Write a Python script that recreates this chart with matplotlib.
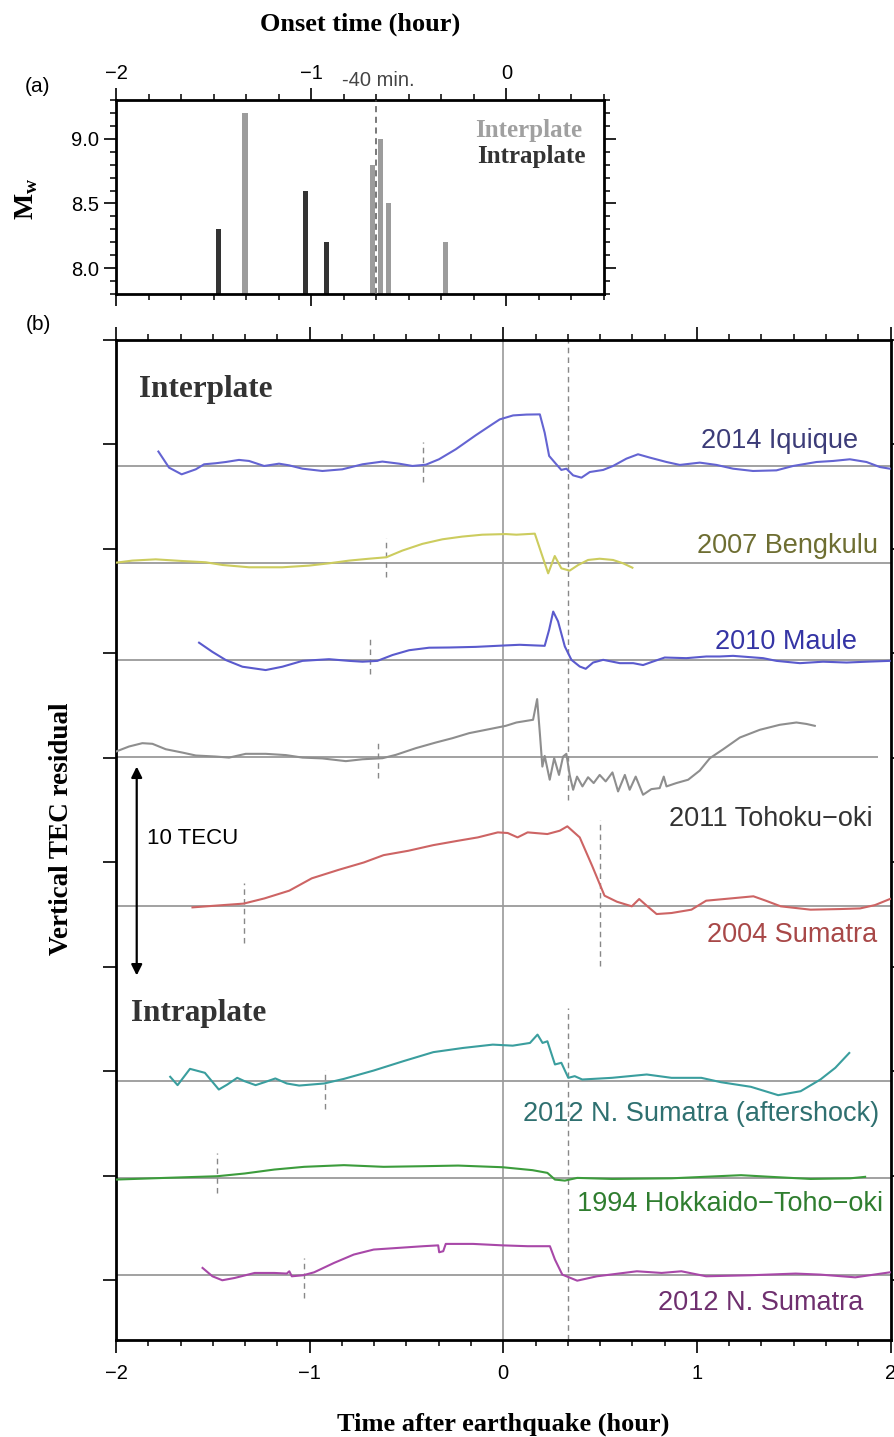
import matplotlib
matplotlib.use("Agg")
import matplotlib.pyplot as plt
from matplotlib.ticker import MultipleLocator, FixedLocator, FormatStrFormatter, NullFormatter

SANS = "Liberation Sans"
SERIF = "Liberation Serif"
plt.rcParams["font.family"] = SANS
plt.rcParams["axes.unicode_minus"] = True
plt.rcParams["mathtext.fontset"] = "custom"
plt.rcParams["mathtext.rm"] = "Liberation Serif"
plt.rcParams["mathtext.bf"] = "Liberation Serif:bold"

# ---------------- panel (a): onset time vs. magnitude ----------------
bar_onset_h = [-1.476, -1.339, -1.027, -0.920, -0.686, -0.645, -0.602, -0.312]
bar_mw = [8.3, 9.2, 8.6, 8.2, 8.8, 9.0, 8.5, 8.2]
bar_kind = ["intra", "inter", "intra", "intra", "inter", "inter", "inter", "inter"]
kind_color = {"inter": "#9c9c9c", "intra": "#333333"}
onset_ref_min = -40

# ---------------- panel (b): VTEC residual time series ----------------
# (hour after earthquake, TECU relative to the series baseline)
iquique = [(-1.781, 0.69), (-1.726, -0.08), (-1.661, -0.40), (-1.588, -0.16), (-1.545, 0.08),
           (-1.485, 0.13), (-1.433, 0.19), (-1.365, 0.29), (-1.313, 0.24), (-1.235, 0.00),
           (-1.158, 0.11), (-1.106, 0.03), (-1.037, -0.13), (-0.934, -0.24), (-0.831, -0.16),
           (-0.727, 0.08), (-0.624, 0.21), (-0.538, 0.11), (-0.469, 0.00), (-0.400, 0.06),
           (-0.332, 0.32), (-0.245, 0.80), (-0.142, 1.47), (-0.056, 2.00), (-0.018, 2.23),
           (0.051, 2.42), (0.120, 2.46), (0.189, 2.47), (0.214, 1.59), (0.237, 0.48),
           (0.274, 0.08), (0.300, -0.19), (0.326, -0.13), (0.361, -0.45), (0.404, -0.56),
           (0.447, -0.29), (0.516, -0.19), (0.567, 0.00), (0.636, 0.35), (0.696, 0.56),
           (0.757, 0.40), (0.843, 0.19), (0.912, 0.05), (1.015, 0.16), (1.101, 0.05),
           (1.187, -0.13), (1.290, -0.24), (1.411, -0.21), (1.497, 0.00), (1.618, 0.19),
           (1.704, 0.24), (1.790, 0.32), (1.876, 0.19), (1.945, -0.05), (1.996, -0.13)]
bengkulu = [(-2.000, 0.03), (-1.916, 0.13), (-1.795, 0.19), (-1.657, 0.11), (-1.537, 0.05),
            (-1.450, -0.08), (-1.313, -0.19), (-1.141, -0.19), (-1.003, -0.11), (-0.900, 0.00),
            (-0.796, 0.13), (-0.693, 0.22), (-0.604, 0.29), (-0.521, 0.61), (-0.418, 0.93),
            (-0.314, 1.15), (-0.211, 1.28), (-0.108, 1.37), (0.013, 1.40), (0.068, 1.37),
            (0.163, 1.42), (0.197, 0.48), (0.232, -0.48), (0.266, 0.35), (0.300, -0.24),
            (0.343, -0.35), (0.387, -0.08), (0.438, 0.16), (0.498, 0.22), (0.567, 0.16),
            (0.619, 0.00), (0.667, -0.21)]
maule = [(-1.571, 0.85), (-1.502, 0.41), (-1.433, 0.02), (-1.347, -0.30), (-1.227, -0.46),
         (-1.141, -0.30), (-1.037, -0.02), (-0.900, 0.06), (-0.796, -0.02), (-0.727, -0.06),
         (-0.650, -0.02), (-0.572, 0.26), (-0.486, 0.49), (-0.383, 0.61), (-0.280, 0.62),
         (-0.142, 0.65), (0.013, 0.72), (0.085, 0.75), (0.214, 0.70), (0.237, 1.47),
         (0.258, 2.34), (0.283, 1.87), (0.318, 0.67), (0.352, 0.03), (0.395, -0.29),
         (0.426, -0.40), (0.464, -0.10), (0.516, 0.03), (0.602, -0.13), (0.671, -0.13),
         (0.722, -0.22), (0.774, -0.05), (0.834, 0.14), (0.946, 0.11), (1.049, 0.19),
         (1.118, 0.19), (1.187, 0.22), (1.342, 0.11), (1.411, -0.02), (1.532, -0.13),
         (1.652, -0.06), (1.773, -0.10), (1.876, -0.06), (1.996, -0.02)]
tohoku = [(-2.000, 0.27), (-1.933, 0.51), (-1.864, 0.67), (-1.812, 0.64), (-1.743, 0.38),
          (-1.657, 0.22), (-1.588, 0.08), (-1.485, 0.03), (-1.416, -0.02), (-1.330, 0.16),
          (-1.227, 0.16), (-1.123, 0.10), (-1.037, -0.02), (-0.934, -0.06), (-0.813, -0.19),
          (-0.727, -0.10), (-0.624, -0.05), (-0.555, 0.11), (-0.452, 0.43), (-0.349, 0.70),
          (-0.262, 0.91), (-0.176, 1.15), (-0.073, 1.34), (0.013, 1.50), (0.068, 1.66),
          (0.154, 1.79), (0.175, 2.78), (0.189, 1.15), (0.202, -0.45), (0.214, 0.06),
          (0.240, -1.08), (0.263, -0.05), (0.288, -0.85), (0.309, 0.03), (0.326, 0.16),
          (0.343, -0.85), (0.361, -1.56), (0.381, -0.93), (0.409, -1.40), (0.438, -0.96),
          (0.467, -1.24), (0.498, -0.85), (0.529, -1.16), (0.564, -0.73), (0.593, -1.64),
          (0.628, -0.85), (0.653, -1.56), (0.684, -0.93), (0.722, -1.80), (0.765, -1.53),
          (0.808, -1.48), (0.829, -0.93), (0.843, -1.40), (0.894, -1.24), (0.955, -1.08),
          (1.015, -0.64), (1.067, -0.05), (1.136, 0.38), (1.222, 0.94), (1.325, 1.31),
          (1.428, 1.55), (1.514, 1.66), (1.566, 1.59), (1.609, 1.50)]
sumatra2004 = [(-1.605, -0.08), (-1.489, 0.00), (-1.341, 0.10), (-1.233, 0.35), (-1.105, 0.72),
               (-0.989, 1.31), (-0.849, 1.72), (-0.720, 2.07), (-0.618, 2.42), (-0.490, 2.63),
               (-0.361, 2.90), (-0.233, 3.11), (-0.131, 3.27), (-0.028, 3.51), (0.023, 3.48),
               (0.074, 3.27), (0.126, 3.51), (0.228, 3.43), (0.292, 3.59), (0.331, 3.80),
               (0.395, 3.27), (0.459, 1.91), (0.523, 0.48), (0.587, 0.19), (0.664, -0.03),
               (0.702, 0.32), (0.741, 0.00), (0.792, -0.40), (0.869, -0.35), (0.972, -0.19),
               (1.048, 0.24), (1.177, 0.35), (1.292, 0.45), (1.356, 0.24), (1.433, -0.03),
               (1.587, -0.19), (1.741, -0.16), (1.843, -0.13), (1.920, 0.03), (1.997, 0.32)]
aftershock = [(-1.720, 0.18), (-1.682, -0.22), (-1.618, 0.56), (-1.541, 0.37), (-1.469, -0.43),
              (-1.425, -0.19), (-1.374, 0.13), (-1.336, -0.03), (-1.279, -0.22), (-1.233, -0.08),
              (-1.177, 0.10), (-1.118, -0.14), (-1.054, -0.24), (-0.925, -0.14), (-0.823, 0.08),
              (-0.669, 0.48), (-0.515, 0.93), (-0.361, 1.36), (-0.208, 1.56), (-0.054, 1.72),
              (0.049, 1.67), (0.138, 1.80), (0.177, 2.20), (0.203, 1.80), (0.228, 1.88),
              (0.267, 0.77), (0.300, 0.85), (0.336, 0.13), (0.369, 0.21), (0.408, 0.05),
              (0.561, 0.13), (0.741, 0.29), (0.869, 0.13), (1.023, 0.13), (1.125, -0.08),
              (1.279, -0.30), (1.420, -0.70), (1.536, -0.51), (1.638, 0.05), (1.715, 0.61),
              (1.787, 1.32)]
hokkaido = [(-2.000, -0.08), (-1.746, 0.00), (-1.477, 0.08), (-1.336, 0.21), (-1.182, 0.40),
            (-1.028, 0.53), (-0.823, 0.61), (-0.618, 0.53), (-0.413, 0.56), (-0.233, 0.59),
            (-0.003, 0.51), (0.151, 0.37), (0.228, 0.24), (0.267, -0.08), (0.318, -0.13),
            (0.382, 0.00), (0.561, -0.05), (0.869, -0.02), (1.228, 0.13), (1.382, 0.05),
            (1.587, -0.05), (1.792, -0.02), (1.869, 0.05)]
nsumatra = [(-1.553, 0.32), (-1.502, -0.08), (-1.451, -0.27), (-1.387, -0.16), (-1.284, 0.08),
            (-1.182, 0.08), (-1.118, 0.05), (-1.105, 0.16), (-1.092, -0.08), (-1.033, -0.03),
            (-0.977, 0.11), (-0.874, 0.56), (-0.772, 0.96), (-0.669, 1.20), (-0.541, 1.28),
            (-0.413, 1.36), (-0.336, 1.40), (-0.331, 1.07), (-0.310, 1.12), (-0.297, 1.47),
            (-0.156, 1.47), (-0.003, 1.40), (0.126, 1.36), (0.241, 1.36), (0.267, 0.72),
            (0.305, 0.00), (0.382, -0.29), (0.484, -0.08), (0.690, 0.16), (0.818, 0.08),
            (0.920, 0.16), (1.048, -0.08), (1.279, -0.03), (1.510, 0.05), (1.638, 0.00),
            (1.818, -0.13), (1.997, 0.11)]

series = [iquique, bengkulu, maule, tohoku, sumatra2004, aftershock, hokkaido, nsumatra]
labels = ["2014 Iquique", "2007 Bengkulu", "2010 Maule", "2011 Tohoku\u2212oki", "2004 Sumatra",
          "2012 N. Sumatra (aftershock)", "1994 Hokkaido\u2212Toho\u2212oki", "2012 N. Sumatra"]
baseline_tecu = [38.97, 34.31, 29.66, 25.03, 17.92, 9.55, 4.89, 0.26]
baseline_end_h = [2.0, 2.0, 2.0, 1.936, 2.0, 2.0, 2.0, 2.0]
line_colors = ["#6464d2", "#cccc5e", "#5a5acd", "#8e8e8e", "#cd6464", "#3a9e9e", "#3c9c3c", "#a848a8"]
label_colors = ["#3c3c78", "#6e6e32", "#3535a5", "#333333", "#a84848", "#2f7070", "#2f7d2f", "#6e2f6e"]
label_right_h = [1.833, 1.936, 1.827, 1.910, 1.930, 1.943, 1.964, 1.860]
label_base_tecu = [39.82, 34.79, 30.20, 21.75, 16.16, 7.60, 3.29, -1.41]
# onset marks (hour) and their extent above/below the baseline (TECU)
onset_mark_h = [-0.415, -0.603, -0.688, -0.647, -1.341, -0.920, -1.477, -1.028]
onset_mark_up = [1.13, 1.21, 1.16, 0.83, 1.11, 0.50, 1.20, 0.80]
onset_mark_down = [0.78, 0.65, 0.65, 1.00, 1.79, 1.37, 0.70, 1.10]
arrival_h = 20 / 60

W, H = 894, 1437
fig = plt.figure(figsize=(W / 100, H / 100), dpi=100)

DASH = (0, (4, 3))

# ----- panel (a) -----
axa = fig.add_axes([116 / W, 1 - 294 / H, 488 / W, 194 / H])
axa.set_xlim(-2, 0.5)
axa.set_ylim(7.8, 9.3)
for x, mw, k in zip(bar_onset_h, bar_mw, bar_kind):
    axa.bar(x, mw - 7.8, bottom=7.8, width=0.026, color=kind_color[k], linewidth=0, zorder=2)
axa.axvline(onset_ref_min / 60, color="#555555", lw=1.1, ls=DASH, zorder=3)
axa.xaxis.set_major_locator(MultipleLocator(1))
axa.xaxis.set_minor_locator(MultipleLocator(1 / 6))
axa.yaxis.set_major_locator(MultipleLocator(0.5))
axa.yaxis.set_minor_locator(MultipleLocator(0.1))
axa.yaxis.set_major_formatter(FormatStrFormatter("%.1f"))
axa.tick_params(axis="x", which="both", direction="out", top=True, bottom=True,
                labeltop=True, labelbottom=False, labelsize=14.5, pad=4)
axa.tick_params(axis="y", which="both", direction="out", left=True, right=True,
                labelsize=14.5, pad=4)
axa.tick_params(which="major", length=8.5, width=1.2)
axa.tick_params(which="minor", length=4.3, width=1.1)
for sp in axa.spines.values():
    sp.set_linewidth(2.0)
axa.text(0.955, 0.808, "Interplate", transform=axa.transAxes, ha="right", va="baseline",
         family=SERIF, fontweight="bold", fontsize=18, color="#a0a0a0")
axa.text(0.962, 0.674, "Intraplate", transform=axa.transAxes, ha="right", va="baseline",
         family=SERIF, fontweight="bold", fontsize=18, color="#333333")

fig.text(342 / W, 1 - 86 / H, "-40 min.", ha="left", va="baseline", fontsize=14.5, color="#444444")
fig.text(360 / W, 1 - 24 / H, "Onset time (hour)", ha="center", va="center",
         family=SERIF, fontweight="bold", fontsize=19)
fig.text(27 / W, 1 - 199 / H, r"$\mathbf{M}_{\mathbf{w}}$", ha="center", va="center",
         rotation=90, fontsize=20)
fig.text(38 / W, 1 - 87 / H, "(a)", ha="center", va="center", fontsize=15)
fig.text(38 / W, 1 - 325 / H, "(b)", ha="center", va="center", fontsize=15)

# ----- panel (b) -----
axb = fig.add_axes([116 / W, 1 - 1340 / H, 774.5 / W, 1000 / H])
axb.set_xlim(-2, 2)
axb.set_ylim(-2.87, 45)
axb.axvline(0, color="#9a9a9a", lw=1.2, zorder=1)

for pts, base, end, lc in zip(series, baseline_tecu, baseline_end_h, line_colors):
    axb.hlines(base, -2, end, color="#9a9a9a", lw=1.3, zorder=1)
    t = [p[0] for p in pts]
    v = [base + p[1] for p in pts]
    axb.plot(t, v, color=lc, lw=1.5, zorder=3)

for th, base, up, dn in zip(onset_mark_h, baseline_tecu, onset_mark_up, onset_mark_down):
    axb.vlines(th, base - dn, base + up, color="#888888", lw=1.0, linestyles=[DASH], zorder=2)

axb.vlines(arrival_h, 23.0, 45, color="#888888", lw=1.0, linestyles=[DASH], zorder=2)
axb.vlines(arrival_h, -2.87, 13.04, color="#888888", lw=1.0, linestyles=[DASH], zorder=2)
axb.vlines(0.502, baseline_tecu[4] - 2.9, baseline_tecu[4] + 4.1, color="#888888", lw=1.0,
           linestyles=[DASH], zorder=2)

for txt, xr, yb, c in zip(labels, label_right_h, label_base_tecu, label_colors):
    axb.text(xr, yb, txt, ha="right", va="baseline", fontsize=19.5, color=c)

axb.annotate("", xy=(-1.893, 14.58), xytext=(-1.893, 24.58),
             arrowprops=dict(arrowstyle="<|-|>", color="black", lw=1.6,
                             mutation_scale=16, shrinkA=0, shrinkB=0))
axb.text(-1.841, 21.12, "10 TECU", ha="left", va="center", fontsize=16)
axb.text(-1.880, 42.29, "Interplate", ha="left", va="baseline", family=SERIF,
         fontweight="bold", fontsize=22.5, color="#333333")
axb.text(-1.921, 12.38, "Intraplate", ha="left", va="baseline", family=SERIF,
         fontweight="bold", fontsize=22.5, color="#333333")

axb.xaxis.set_major_locator(MultipleLocator(1))
axb.xaxis.set_minor_locator(MultipleLocator(1 / 6))
axb.yaxis.set_major_locator(MultipleLocator(5))
axb.yaxis.set_major_formatter(NullFormatter())
axb.tick_params(axis="x", which="both", direction="out", top=True, bottom=True,
                labeltop=False, labelbottom=True, labelsize=14.5, pad=8)
axb.tick_params(axis="y", which="both", direction="out", left=True, right=True)
axb.tick_params(which="major", length=9.5, width=1.2)
axb.tick_params(which="minor", length=4.5, width=1.1)
for sp in axb.spines.values():
    sp.set_linewidth(2.0)

fig.text(503 / W, 1 - 1424 / H, "Time after earthquake (hour)", ha="center", va="center",
         family=SERIF, fontweight="bold", fontsize=19)
fig.text(62 / W, 1 - 829 / H, "Vertical TEC residual", ha="center", va="center", rotation=90,
         family=SERIF, fontweight="bold", fontsize=19.5)

fig.savefig("out.png", dpi=100)
